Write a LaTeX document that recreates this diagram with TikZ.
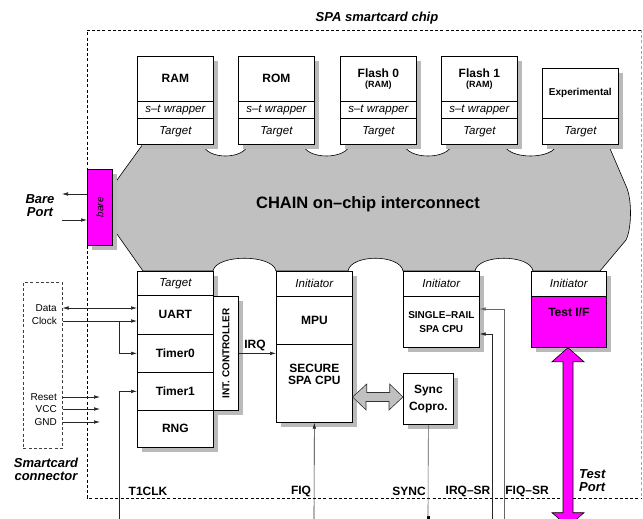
\documentclass[tikz,border=0pt]{standalone}
\usepackage{fontspec}
\setmainfont{Liberation Sans}
\usetikzlibrary{arrows.meta,calc}
\definecolor{cloudgray}{RGB}{192,192,192}
\definecolor{shadowgray}{RGB}{186,186,186}
\definecolor{mag}{RGB}{255,0,255}
\newcommand\fntBold{\fontsize{12}{12.5}\selectfont\bfseries}
\newcommand\fntBoldS{\fontsize{10}{14}\selectfont\bfseries}
\newcommand\fntIt{\fontsize{11.5}{13}\selectfont\itshape}
\newcommand\fntItS{\fontsize{10}{12}\selectfont\itshape}
\newcommand\fntReg{\fontsize{10}{12}\selectfont}
\newcommand\fntBI{\fontsize{13}{13}\selectfont\bfseries\itshape}
\newcommand\fntBig{\fontsize{16.5}{18}\selectfont\bfseries}
\newcommand\fntRamS{\fontsize{9}{10}\selectfont\bfseries}
\begin{document}
\begin{tikzpicture}[x=1pt,y=-1pt,
  cell/.style={draw=black, fill=white, line width=0.7pt, inner sep=0pt, anchor=north west, align=center},
  shadowbox/.style={fill=shadowgray, draw=none},
  wire/.style={line width=0.6pt, draw=black!85},
  tipb/.tip={Latex[length=6pt,width=3.6pt]},
  lbl/.style={font=\fntBold, inner sep=0pt}]
\useasboundingbox (0,0) rectangle (643,519);

% chip frame
\draw[line width=0.6pt, dash pattern=on 3pt off 2.2pt] (641,30) -- (87,30) -- (87,498) -- (641,498);
\draw[line width=0.6pt, draw=black!35, dash pattern=on 3pt off 2.2pt] (641,30) -- (641,498);
\node[font=\fntBI, inner sep=0pt] (title) at (377,18) {SPA smartcard chip};

% interconnect cloud
\filldraw[fill=cloudgray, draw=black, line width=0.6pt]
  (143,144) -- (203,144) .. controls (206,160) and (245,160) .. (248,144)
  -- (303,144) .. controls (306,160) and (347,160) .. (350,144)
  -- (404,144) .. controls (407,160) and (449,160) .. (452,144)
  -- (504,144) .. controls (507,160) and (554,160) .. (557,144)
  -- (608,144) -- (626,186) .. controls (632,198) and (632,228) .. (626,240)
  -- (600,271) -- (533,271) .. controls (530,254) and (478,254) .. (475,271)
  -- (403,271) .. controls (400,254) and (351,254) .. (348,271)
  -- (276,271) .. controls (273,254) and (216,254) .. (213,271)
  -- (143,271) -- (112,227) -- (112,187) -- cycle;
\node[font=\fntBig, inner sep=0pt] (chain) at (368,204) {CHAIN on–chip interconnect};

% shadows
\fill[shadowbox] (142,61) rectangle (218,149);
\fill[shadowbox] (243,61) rectangle (319,149);
\fill[shadowbox] (345,61) rectangle (421,149);
\fill[shadowbox] (446,61) rectangle (522,149);
\fill[shadowbox] (547,73) rectangle (623,149);
\fill[shadowbox] (92,174) rectangle (117,250);
\fill[shadowbox] (142,276) rectangle (218,452);
\fill[shadowbox] (218,301) rectangle (243,415);
\fill[shadowbox] (281,276) rectangle (357,427);
\fill[shadowbox] (408,276) rectangle (484,352);
\fill[shadowbox] (536,276) rectangle (611,352);
\fill[shadowbox] (408,378) rectangle (458,429);

% top targets
\node[cell, minimum width=76pt, minimum height=45pt, font=\fntBold] (ram) at (137,56) {RAM};
\node[cell, minimum width=76pt, minimum height=17pt, font=\fntIt] (ramw) at (137,101) {s–t wrapper};
\node[cell, minimum width=76pt, minimum height=26pt, font=\fntIt] (ramt) at (137,118) {Target};
\node[cell, minimum width=76pt, minimum height=45pt, font=\fntBold] (rom) at (238,56) {ROM};
\node[cell, minimum width=76pt, minimum height=17pt, font=\fntIt] (romw) at (238,101) {s–t wrapper};
\node[cell, minimum width=76pt, minimum height=26pt, font=\fntIt] (romt) at (238,118) {Target};
\node[cell, minimum width=76pt, minimum height=45pt, font=\fntBold] (fl0) at (340,56) {Flash 0\\[-2.5pt]{\fntRamS (RAM)}};
\node[cell, minimum width=76pt, minimum height=17pt, font=\fntIt] (fl0w) at (340,101) {s–t wrapper};
\node[cell, minimum width=76pt, minimum height=26pt, font=\fntIt] (fl0t) at (340,118) {Target};
\node[cell, minimum width=76pt, minimum height=45pt, font=\fntBold] (fl1) at (441,56) {Flash 1\\[-2.5pt]{\fntRamS (RAM)}};
\node[cell, minimum width=76pt, minimum height=17pt, font=\fntIt] (fl1w) at (441,101) {s–t wrapper};
\node[cell, minimum width=76pt, minimum height=26pt, font=\fntIt] (fl1t) at (441,118) {Target};
\node[cell, minimum width=76pt, minimum height=50pt, font=\fntBoldS] (exp) at (542,68) {Experimental};
\node[cell, minimum width=76pt, minimum height=26pt, font=\fntIt] (expt) at (542,118) {Target};

% bare port
\node[cell, fill=mag, minimum width=25pt, minimum height=76pt] (bare) at (87,169) {\rotatebox{90}{\fntItS bare}};
\node[font=\fntBI, align=center, inner sep=0pt] (bareport) at (40,206) {Bare\\Port};

% peripherals
\node[cell, minimum width=76pt, minimum height=24pt, font=\fntIt] (tgt) at (137,271) {Target};
\node[cell, minimum width=76pt, minimum height=39pt, font=\fntBold] (uart) at (137,295) {UART};
\node[cell, minimum width=76pt, minimum height=38pt, font=\fntBold] (tim0) at (137,334) {Timer0};
\node[cell, minimum width=76pt, minimum height=38pt, font=\fntBold] (tim1) at (137,372) {Timer1};
\node[cell, minimum width=76pt, minimum height=37pt, font=\fntBold] (rng) at (137,410) {RNG};
\node[cell, minimum width=25pt, minimum height=114pt] (intc) at (213,296) {\rotatebox{90}{\fntBoldS INT. CONTROLLER}};

% MPU / secure CPU
\node[cell, minimum width=76pt, minimum height=25pt, font=\fntIt] (mpui) at (276,271) {Initiator};
\node[cell, minimum width=76pt, minimum height=48pt, font=\fntBold] (mpu) at (276,296) {MPU};
\node[cell, minimum width=76pt, minimum height=78pt, font=\fntBold] (cpu) at (276,344) {SECURE\\SPA CPU\\[6pt]};

% single rail CPU
\node[cell, minimum width=76pt, minimum height=25pt, font=\fntIt] (sri) at (403,271) {Initiator};
\node[cell, minimum width=76pt, minimum height=51pt, font=\fntBoldS] (src) at (403,296) {SINGLE–RAIL\\SPA CPU};

% test interface
\node[cell, minimum width=75pt, minimum height=25pt, font=\fntIt] (tii) at (531,271) {Initiator};
\node[cell, fill=mag, minimum width=75pt, minimum height=51pt, font=\fntBold] (tif) at (531,296) {Test I/F\\[6pt]};

% sync copro
\node[cell, minimum width=50pt, minimum height=51pt, font=\fontsize{12}{17}\selectfont\bfseries] (sync) at (403,373) {Sync\\Copro.};

% smartcard connector
\node[draw=black!75, line width=0.6pt, dash pattern=on 3pt off 2.2pt, minimum width=39pt, minimum height=166pt, inner sep=0pt, anchor=north west] (conn) at (23,282) {};
\node[font=\fntBI, align=center, inner sep=0pt] (connlbl) at (46,469) {Smartcard\\connector};
\node[font=\fntReg, anchor=east, inner sep=0pt] (ldata) at (57,308) {Data};
\node[font=\fntReg, anchor=east, inner sep=0pt] (lclock) at (57,321) {Clock};
\node[font=\fntReg, anchor=east, inner sep=0pt] (lreset) at (57,397) {Reset};
\node[font=\fntReg, anchor=east, inner sep=0pt] (lvcc) at (57,409) {VCC};
\node[font=\fntReg, anchor=east, inner sep=0pt] (lgnd) at (57,422) {GND};

% coordinates
\coordinate (yData) at (0,308);
\coordinate (yClock) at (0,321);
\coordinate (br) at (119,321);
\coordinate (t1in) at (119,519);
\coordinate (rst) at (100,397);
\coordinate (vcc) at (100,409);
\coordinate (gnd) at (100,422);
\coordinate (bpo) at (62,194);
\coordinate (bpi) at (62,220);
\coordinate (fiqin) at (314,519);
\coordinate (irqsr) at (492,519);
\coordinate (fiqsr) at (504,519);
\coordinate (yIrqsr) at (0,334);
\coordinate (yFiqsr) at (0,309);

% wires
\draw[wire, tipb-tipb] (conn.east |- yData) -- (uart.west |- yData);
\draw[wire, -tipb] (conn.east |- yClock) -- (uart.west |- yClock);
\draw[wire, -tipb] (br) |- (tim0.west);
\draw[wire, -tipb] (t1in) |- (tim1.west);
\draw[wire, -tipb] (conn.east |- rst) -- (rst);
\draw[wire, -tipb] (conn.east |- vcc) -- (vcc);
\draw[wire, -tipb] (conn.east |- gnd) -- (gnd);
\draw[wire, -tipb] (bare.west |- bpo) -- (bpo);
\draw[wire, -tipb] (bpi) -- (bare.west |- bpi);
\draw[wire, -tipb] (intc.east) -- (intc.east -| cpu.west);
\node[lbl, anchor=south] (lirq) at (255,351) {IRQ};
\draw[wire, -tipb] (fiqin) -- (cpu.south);
\node[fill=black, inner sep=0pt, minimum size=3pt] (syncdot) at (428,517) {};
\draw[wire, draw=black!65] (sync.south) -- (syncdot.center);
\draw[wire, -tipb] (irqsr) |- (src.east |- yIrqsr);
\draw[wire, draw=black!60, -tipb] (fiqsr) |- (src.east |- yFiqsr);

% double arrows
\filldraw[fill=cloudgray, draw=black!80, line width=0.6pt]
  (cpu.east |- 0,397) -- ++(14,-13) -- ++(0,8.5) -- ++(23,0) -- ++(0,-8.5)
  -- (sync.west |- 0,397) -- ++(-14,13) -- ++(0,-8.5) -- ++(-23,0) -- ++(0,8.5) -- cycle;
\filldraw[fill=mag, draw=black, line width=0.6pt]
  (tif.south -| 568,0) -- ++(16,14) -- ++(-11,0) -- ++(0,151) -- ++(11,0) -- ++(-16,14)
  -- ++(-16,-14) -- ++(11,0) -- ++(0,-151) -- ++(-11,0) -- cycle;

% bottom labels
\node[lbl] (lt1) at (148,491) {T1CLK};
\node[lbl] (lfiq) at (301,491) {FIQ};
\node[lbl] (lsync) at (409,491) {SYNC};
\node[lbl] (lirqsr) at (468,491) {IRQ–SR};
\node[lbl] (lfiqsr) at (527,491) {FIQ–SR};
\node[font=\fntBI, align=left, anchor=west, inner sep=0pt] (ltp) at (579,481) {Test\\Port};
\end{tikzpicture}
\end{document}
